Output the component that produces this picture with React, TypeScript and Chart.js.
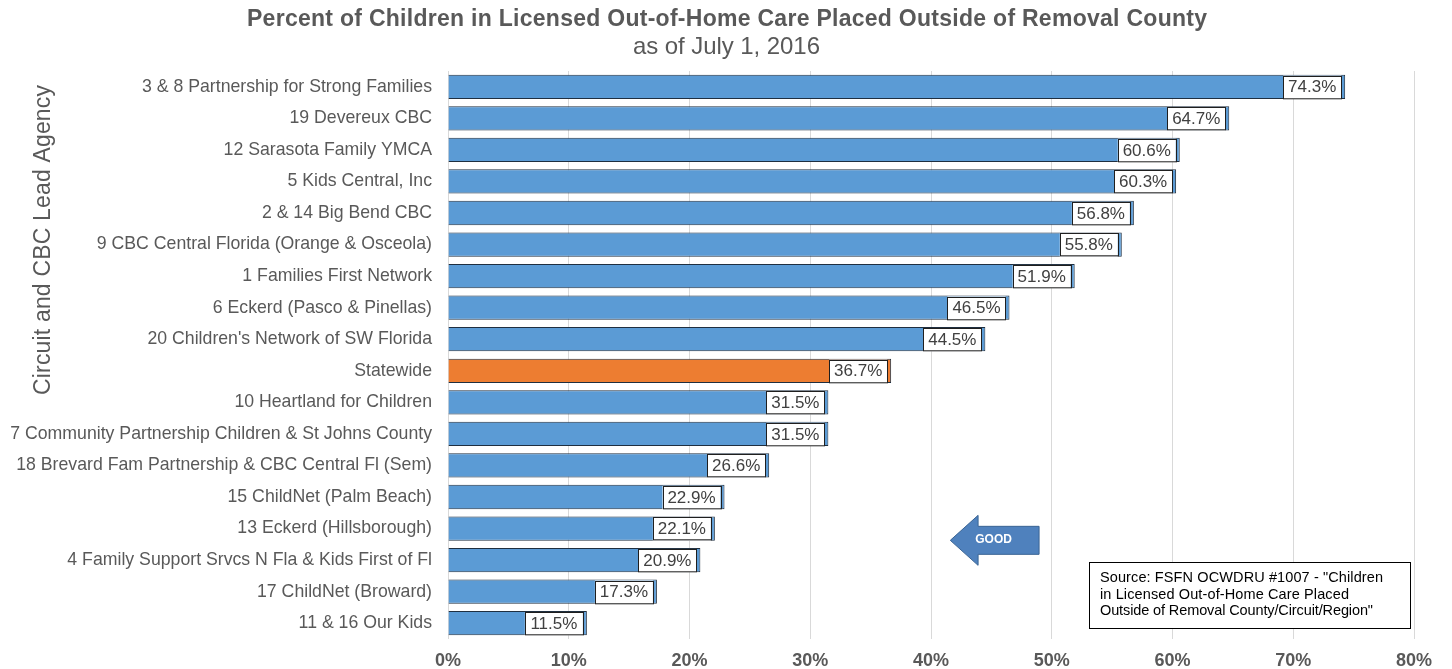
import React, { useEffect, useRef } from "react";
import { Chart, registerables } from "chart.js";
Chart.register(...registerables);

const categories = [
  "3 & 8 Partnership for Strong Families",
  "19 Devereux CBC",
  "12 Sarasota Family YMCA",
  "5 Kids Central, Inc",
  "2 & 14 Big Bend CBC",
  "9 CBC Central Florida (Orange & Osceola)",
  "1 Families First Network",
  "6 Eckerd (Pasco & Pinellas)",
  "20 Children's Network of SW Florida",
  "Statewide",
  "10 Heartland for Children",
  "7 Community Partnership Children & St Johns County",
  "18 Brevard Fam Partnership & CBC Central Fl (Sem)",
  "15 ChildNet (Palm Beach)",
  "13 Eckerd (Hillsborough)",
  "4 Family Support Srvcs N Fla & Kids First of Fl",
  "17 ChildNet (Broward)",
  "11 & 16 Our Kids",
];
const values = [74.3, 64.7, 60.6, 60.3, 56.8, 55.8, 51.9, 46.5, 44.5, 36.7, 31.5, 31.5, 26.6, 22.9, 22.1, 20.9, 17.3, 11.5];
const highlight = "Statewide";
const titleText = "Percent of Children in Licensed Out-of-Home Care Placed Outside of Removal County";
const subtitleText = "as of July 1, 2016";
const yTitle = "Circuit and CBC Lead Agency";
const sourceLines = [
  'Source: FSFN OCWDRU #1007 - "Children',
  "in Licensed Out-of-Home Care Placed",
  'Outside of Removal County/Circuit/Region"',
];
const sourceWidths = [283, 249, 273];
const arrowLabel = "GOOD";

const FONT = "'Liberation Sans', Arial, sans-serif";
const GREY = "#595959";

function fitText(ctx: any, text: string, left: number, y: number, width: number) {
  ctx.letterSpacing = "0px";
  const w = ctx.measureText(text).width;
  const n = Math.max(1, text.length - 1);
  const ls = (width - w) / n;
  ctx.letterSpacing = ls.toFixed(3) + "px";
  ctx.textAlign = "left";
  ctx.fillText(text, left, y);
  ctx.letterSpacing = "0px";
}

const extras = {
  id: "extras",
  afterDatasetsDraw(chart: any) {
    const ctx = chart.ctx;
    const meta = chart.getDatasetMeta(0);
    ctx.save();
    // data label boxes
    meta.data.forEach((bar: any, i: number) => {
      const h = bar.height;
      const w = 58;
      const right = bar.x - 4;
      const left = right - w;
      const top = bar.y - h / 2 + 1;
      ctx.fillStyle = "#ffffff";
      ctx.fillRect(left, top, w, h - 1);
      ctx.strokeStyle = "#1f1f1f";
      ctx.lineWidth = 1;
      ctx.strokeRect(Math.round(left) + 0.5, Math.round(top) + 0.5, w, h - 2);
      ctx.fillStyle = "#404040";
      ctx.font = `17px ${FONT}`;
      ctx.textAlign = "center";
      ctx.textBaseline = "middle";
      ctx.fillText(values[i].toFixed(1) + "%", left + w / 2, bar.y + 1);
    });
    // arrow
    const xs = chart.scales.x;
    const ys = chart.scales.y;
    const ax0 = xs.getPixelForValue(41.6);
    const ax1 = xs.getPixelForValue(48.95);
    const axh = xs.getPixelForValue(43.9);
    const yMid = (ys.getPixelForValue(14) + ys.getPixelForValue(15)) / 2 - 4;
    const half = 25;
    const bodyHalf = 14;
    ctx.beginPath();
    ctx.moveTo(ax0, yMid);
    ctx.lineTo(axh, yMid - half);
    ctx.lineTo(axh, yMid - bodyHalf);
    ctx.lineTo(ax1, yMid - bodyHalf);
    ctx.lineTo(ax1, yMid + bodyHalf);
    ctx.lineTo(axh, yMid + bodyHalf);
    ctx.lineTo(axh, yMid + half);
    ctx.closePath();
    ctx.fillStyle = "#4f81bd";
    ctx.fill();
    ctx.strokeStyle = "#3a6494";
    ctx.lineWidth = 1;
    ctx.stroke();
    ctx.fillStyle = "#ffffff";
    ctx.font = `bold 12px ${FONT}`;
    ctx.textAlign = "center";
    ctx.textBaseline = "middle";
    ctx.fillText(arrowLabel, (axh + ax1) / 2 - 15, yMid - 1);
    // source box
    ctx.fillStyle = "#ffffff";
    ctx.fillRect(1089, 562, 321, 66);
    ctx.strokeStyle = "#000000";
    ctx.strokeRect(1089.5, 562.5, 321, 66);
    ctx.fillStyle = "#000000";
    ctx.font = `14.5px ${FONT}`;
    ctx.textBaseline = "middle";
    sourceLines.forEach((l, i) => fitText(ctx, l, 1100, 578 + i * 16.7, sourceWidths[i]));
    // titles
    ctx.fillStyle = GREY;
    ctx.font = `bold 23px ${FONT}`;
    fitText(ctx, titleText, 247, 20, 960);
    ctx.font = `24px ${FONT}`;
    fitText(ctx, subtitleText, 633, 47, 187);
    ctx.translate(44, 395);
    ctx.rotate(-Math.PI / 2);
    ctx.font = `23px ${FONT}`;
    fitText(ctx, yTitle, 0, 0, 310);
    ctx.restore();
  },
};

export default function App() {
  const ref = useRef<HTMLCanvasElement>(null);
  useEffect(() => {
    document.body.style.margin = "0";
    const chart = new Chart(ref.current!, {
      type: "bar",
      data: {
        labels: categories,
        datasets: [
          {
            data: values,
            backgroundColor: categories.map((c) => (c === highlight ? "#ed7d31" : "#5b9bd5")),
            borderColor: "#1f2f40",
            borderWidth: 1,
            categoryPercentage: 1,
            barPercentage: 0.77,
          },
        ],
      },
      options: {
        indexAxis: "y",
        animation: false,
        responsive: false,
        maintainAspectRatio: false,
        layout: { padding: { top: 71, right: 38, left: 0, bottom: 0 } },
        plugins: { legend: { display: false }, tooltip: { enabled: false }, title: { display: false } },
        scales: {
          x: {
            min: 0,
            max: 80,
            ticks: {
              stepSize: 10,
              callback: (v: any) => v + "%",
              color: GREY,
              font: { family: FONT, size: 18, weight: "bold" },
              padding: 11,
            },
            grid: { color: "#d9d9d9", drawTicks: false },
            border: { display: false },
            afterFit: (s: any) => {
              s.height = 30;
            },
          },
          y: {
            ticks: {
              color: GREY,
              font: { family: FONT, size: 17.7 },
              padding: 16,
              autoSkip: false,
            },
            grid: { display: false, drawTicks: false },
            border: { display: false },
            afterFit: (s: any) => {
              s.width = 448;
            },
          },
        },
      },
      plugins: [extras],
    });
    return () => chart.destroy();
  }, []);
  return (
    <div style={{ position: "relative", width: 1452, height: 669 }}>
      <canvas ref={ref} width={1452} height={669} style={{ display: "block" }} />
    </div>
  );
}
